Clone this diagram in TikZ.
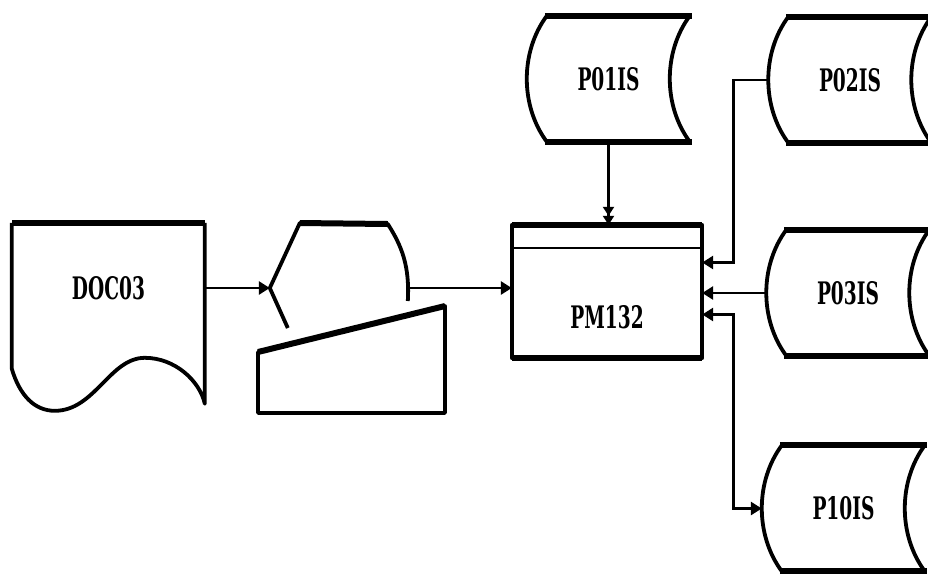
\documentclass[tikz,border=0pt]{standalone}
\usepackage{fontspec}
\newfontfamily\lblfont{DejaVu Serif}
\usetikzlibrary{arrows.meta, calc, positioning}

\newcommand{\plbl}[1]{\scalebox{0.6}[1]{\fontsize{31}{33}\selectfont\lblfont\bfseries #1}}

\begin{document}
\begin{tikzpicture}[x=1pt, y=-1pt,
    >={Triangle[length=11pt, width=13pt]},
    store/.style={minimum width=163pt, minimum height=126pt, inner sep=0pt},
    edge/.style={line width=3.8pt, line join=round},
    heavy/.style={line width=6pt},
    conn/.style={line width=2.8pt, ->}]
            % fixed frame, same as the scan
            \path[use as bounding box] (0,0) rectangle (928,574);

            \node[minimum width=193pt, minimum height=130pt, inner sep=0pt] (doc) at (108.5,288) {\plbl{DOC03}};
            \node[minimum width=140pt, minimum height=130pt, inner sep=0pt] (disp) at (340,288) {};
            \node[minimum width=190pt, minimum height=133pt, inner sep=0pt] (pm) at (607,291.5) {};
            \node (pmlabel) at (607,317) {\plbl{PM132}};
            \node[store] (p01) at (608.5,79) {\plbl{P01IS}};
            \node[store] (p02) at (850,80) {\plbl{P02IS}};
            \node[store] (p03) at (848,293) {\plbl{P03IS}};
            \node[store] (p10) at (843.5,508.5) {\plbl{P10IS}};

            % document
            \draw[edge, shift={(doc.north west)}] (0,0) -- (0,146) .. controls (8,173) and (23,188) .. (43,188)
                .. controls (83,188) and (98,135) .. (133,135) .. controls (163,135) and (188,158) .. (193,181) -- (193,0);
            \draw[heavy] (doc.north west) -- (doc.north east);

            % display
            \draw[edge, shift={(disp.west)}] (18,40) -- (0,0) -- (30,-65) -- (118,-64)
                .. controls (132,-42) and (140,-22) .. (138,13);
            \draw[heavy, shift={(disp.west)}] (30,-65) -- (118,-64);

            % manual input
            \draw[edge] (258,352) -- (445,306) -- (445,413) -- (258,413) -- cycle;
            \draw[heavy] (258,352) -- (445,306);

            % master file
            \draw[edge] (pm.north west) rectangle (pm.south east);
            \draw[heavy] (pm.north west) -- (pm.north east);
            \draw[heavy] (pm.south west) -- (pm.south east);
            \draw[line width=2.5pt] ([yshift=-23pt]pm.north west) -- ([yshift=-23pt]pm.north east);

            % stored data
            \foreach \s in {p01,p02,p03,p10} {
                \draw[edge, shift={(\s.north west)}] (20,126) .. controls (-6.7,90) and (-6.7,36) .. (20,0);
                \draw[edge, shift={(\s.north west)}] (163,0) .. controls (136.3,36) and (136.3,90) .. (163,126);
                \draw[heavy, shift={(\s.north west)}] (18,0) -- (165,0);
                \draw[heavy, shift={(\s.north west)}] (18,126) -- (165,126);
            }

            \draw[conn] (doc.east) -- (disp.west);
            \draw[conn] (disp.east) -- (disp.east -| pm.west);
            \draw[line width=2.5pt, -{Triangle[length=9pt, width=11pt] Triangle[length=9pt, width=11pt]}] (p01.south) -- (p01.south |- pm.north);
            \draw[conn] (p02.west) -- ++(-35,0) |- ([yshift=29pt]pm.east);
            \draw[conn] (p03.west) -- (p03.west -| pm.east);
            \draw[conn, <->] ([yshift=-23pt]pm.east) -- ++(31,0) |- (p10.west);
        \end{tikzpicture}
\end{document}
